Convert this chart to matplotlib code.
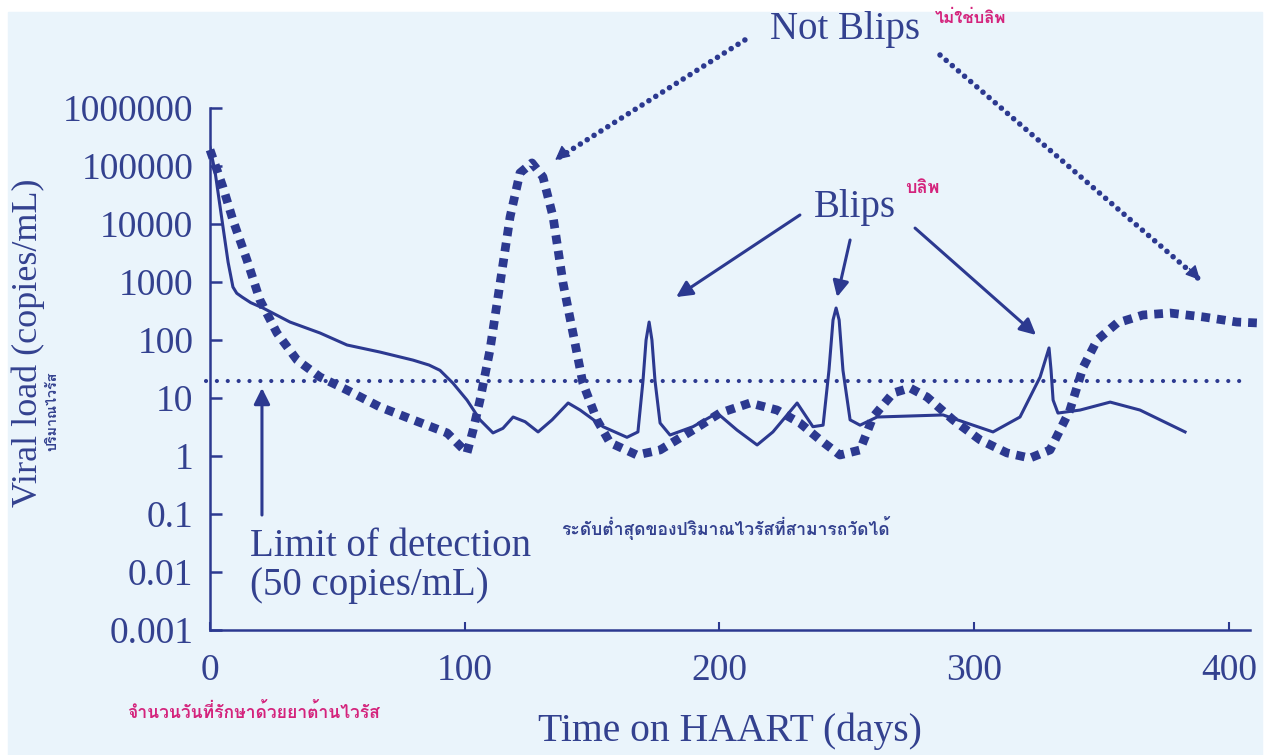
import matplotlib
matplotlib.use("Agg")
import matplotlib.pyplot as plt
import numpy as np
from matplotlib import font_manager
from matplotlib.ft2font import FT2Font
from matplotlib.patches import Rectangle
from matplotlib.ticker import FixedLocator, FuncFormatter, NullLocator


def thai_family():
    # pick any installed font that has Thai glyphs
    for f in font_manager.fontManager.ttflist:
        try:
            if ord('ก') in FT2Font(f.fname).get_charmap():
                return f.name
        except Exception:
            pass
    return 'DejaVu Sans'


THAI = [thai_family(), 'DejaVu Sans']
SERIF = 'Liberation Serif'

NAVY = '#2c3990'
TEXT = '#33418f'
PINK = '#d4237c'
BG = '#eaf4fb'

# viral load of the "blips" patient (solid line)
blip_days = [0, 2.0, 5.1, 7.1, 9.0, 10.5, 12.6, 16.0, 20.8, 31.4, 43.2, 53.8, 66.7,
             79.7, 86.0, 90.3, 95.4, 100.9, 106.0, 111.1, 115.0, 119.0, 123.7, 128.8,
             134.3, 140.6, 145.3, 154.3, 163.7, 168.0, 170.0, 171.2, 172.4, 173.5,
             174.7, 176.7, 180.6, 189.6, 199.1, 206.9, 214.8, 221.0, 230.5, 236.7,
             240.7, 243.0, 244.6, 245.8, 247.0, 248.5, 251.3, 255.2, 261.9, 287.8,
             307.4, 318.0, 325.9, 329.4, 330.2, 331.0, 332.9, 341.6, 353.4, 365.1,
             382.8]
blip_load = [210000, 79000, 8900, 2200, 820, 640, 550, 440, 356, 204, 132, 82, 62,
             45, 37, 30, 18, 9.2, 4.2, 2.5, 3.0, 4.7, 3.9, 2.6,
             4.2, 8.2, 6.2, 3.2, 2.1, 2.6, 20, 100, 204, 100,
             20, 3.7, 2.3, 3.2, 5.5, 2.8, 1.55, 2.6, 8.2, 3.2,
             3.4, 30, 221, 356, 221, 30, 4.2, 3.4, 4.7, 5.1,
             2.6, 4.7, 23, 73, 30, 9.2, 5.5, 6.2, 8.5, 6.2,
             2.6]

# viral load of the "not blips" patient (thick dotted line)
rebound_days = [0, 5.1, 9.0, 14.5, 19.6, 26.3, 34.2, 43.2, 53.8, 66.7, 79.7, 93.1,
                100.9, 103.3, 106.0, 109.9, 113.9, 117.8, 121.7, 126.4, 130.7, 134.7,
                138.6, 142.5, 146.4, 151.9, 157.0, 167.6, 176.7, 189.6, 200.2, 212.0,
                222.6, 231.6, 239.5, 247.3, 255.2, 260.3, 268.2, 274.8, 281.5, 291.7,
                302.3, 312.9, 321.9, 329.8, 333.7, 337.6, 342.8, 348.3, 356.1, 366.3,
                376.9, 389.9, 403.2, 412.2]
rebound_load = [190000, 43000, 11700, 2400, 490, 132, 45, 23, 13.7, 7.0, 4.2, 2.5,
                1.13, 2.8, 9.2, 67, 960, 13200, 76000, 113000, 65000, 13200,
                960, 132, 18, 4.2, 1.7, 1.04, 1.27, 2.8, 5.5, 8.2,
                6.2, 3.7, 1.9, 1.04, 1.27, 4.7, 12.2, 14.9, 10.4, 4.2,
                1.9, 1.13, 0.92, 1.27, 2.8, 6.2, 34, 100, 196, 270,
                292, 250, 204, 196]

limit_level = 20
y_ticks = [0.001, 0.01, 0.1, 1, 10, 100, 1000, 10000, 100000, 1000000]
x_ticks = [0, 100, 200, 300, 400]

fig = plt.figure(figsize=(12.66, 7.55), dpi=100)
fig.patch.set_facecolor('white')
fig.add_artist(Rectangle((8 / 1266, 0), 1254 / 1266, 743 / 755,
                         transform=fig.transFigure, color=BG, zorder=-10))

ax = fig.add_axes([210 / 1266, 125 / 755, 1040 / 1266, 522 / 755])
ax.set_facecolor('none')
ax.set_yscale('log')
ax.set_xlim(0, 408.3)
ax.set_ylim(1e-3, 1e6)

ax.plot(blip_days, blip_load, color=NAVY, lw=2.2, zorder=3,
        solid_joinstyle='round')
ax.plot(rebound_days, rebound_load, color=NAVY, lw=6.3,
        linestyle=(0, (1.0, 0.8)), dash_capstyle='butt', zorder=2, clip_on=False)
ax.axhline(limit_level, xmin=-0.004, xmax=0.995, color=NAVY, lw=3.0,
           linestyle=(0, (0.01, 2.6)), dash_capstyle='round', clip_on=False)

for s in ['top', 'right']:
    ax.spines[s].set_visible(False)
for s in ['left', 'bottom']:
    ax.spines[s].set_color(NAVY)
    ax.spines[s].set_linewidth(1.8)

ax.yaxis.set_major_locator(FixedLocator(y_ticks))
ax.yaxis.set_minor_locator(NullLocator())
ax.yaxis.set_major_formatter(FuncFormatter(lambda v, _: '%.10g' % v))
ax.set_xticks(x_ticks)
ax.tick_params(axis='y', direction='in', length=8.5, width=1.8, color=NAVY,
               pad=12, labelsize=27, labelcolor=TEXT)
ax.tick_params(axis='x', direction='in', length=6, width=1.5, color=NAVY,
               pad=17, labelsize=27, labelcolor=TEXT)
for lab in ax.get_xticklabels() + ax.get_yticklabels():
    lab.set_fontfamily(SERIF)

# axis titles
fig.text(28 / 1266, 1 - 343 / 755, 'Viral load (copies/mL)', rotation=90,
         ha='center', va='center', fontsize=26, family=SERIF, color=TEXT)
fig.text(52 / 1266, 1 - 411 / 755, 'ปริมาณไวรัส', rotation=90,
         ha='center', va='center', fontsize=10.2, family=THAI, color=TEXT,
         fontweight='bold')
fig.text(730 / 1266, 1 - 731 / 755, 'Time on HAART (days)', ha='center',
         va='center', fontsize=28.5, family=SERIF, color=TEXT)
fig.text(127 / 1266, 1 - 712 / 755, 'จำนวนวันที่รักษาด้วยยาต้านไวรัส',
         ha='left', va='center', fontsize=12.6, family=THAI, color=PINK,
         fontweight='bold')

# annotations
fig.text(845 / 1266, 1 - 30 / 755, 'Not Blips', ha='center', va='center',
         fontsize=28, family=SERIF, color=TEXT)
fig.text(935 / 1266, 1 - 18 / 755, 'ไม่ใช่บลิพ', ha='left', va='center',
         fontsize=12, family=THAI, color=PINK, fontweight='bold')
fig.text(855 / 1266, 1 - 208 / 755, 'Blips', ha='center', va='center',
         fontsize=28, family=SERIF, color=TEXT)
fig.text(905 / 1266, 1 - 188 / 755, 'บลิพ', ha='left', va='center',
         fontsize=13, family=THAI, color=PINK, fontweight='bold')
ax.text(15.7, 0.0125, 'Limit of detection\n(50 copies/mL)', ha='left',
        va='center', fontsize=28, family=SERIF, color=TEXT, linespacing=1.08)
ax.text(138, 0.058, 'ระดับต่ำสุดของปริมาณไวรัสที่สามารถวัดได้', ha='left',
        va='center', fontsize=12.6, family=THAI, color=TEXT, fontweight='bold')

solid_arrow = dict(arrowstyle='-|>', color=NAVY, lw=2.2, mutation_scale=24,
                   shrinkA=0, shrinkB=0)
dot_line = dict(arrowstyle='-', color=NAVY, lw=4.0, shrinkA=0, shrinkB=0,
                linestyle=(0, (0.01, 1.45)), capstyle='round')
dot_head = dict(arrowstyle='-|>', color=NAVY, lw=1.0, mutation_scale=22,
                shrinkA=0, shrinkB=0)

# "Not Blips" dotted pointers: dotted shaft + solid head
for head, tail, near in [((135.5, 1.27e5), (210.0, 1.49e7), (139.0, 1.7e5)),
                         ((388.7, 1080), (286.6, 8.2e6), (384.5, 1700))]:
    ax.annotate('', xy=head, xytext=tail, arrowprops=dot_line,
                annotation_clip=False)
    ax.annotate('', xy=head, xytext=near, arrowprops=dot_head,
                annotation_clip=False)

ax.annotate('', xy=(183.0, 550), xytext=(231.6, 14300), arrowprops=solid_arrow)
ax.annotate('', xy=(246.2, 550), xytext=(251.3, 5300), arrowprops=solid_arrow)
ax.annotate('', xy=(324.3, 122), xytext=(276.8, 8500), arrowprops=solid_arrow)
ax.annotate('', xy=(20.4, 14.9), xytext=(20.4, 0.096), arrowprops=solid_arrow)

fig.savefig('out.png', dpi=100)
